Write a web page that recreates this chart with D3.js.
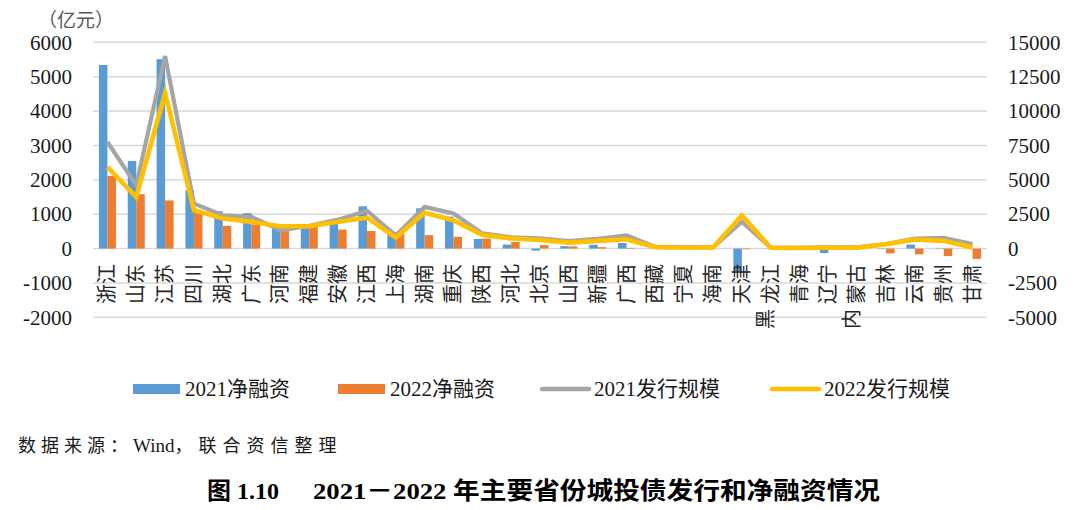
<!DOCTYPE html>
<html>
<head>
<meta charset="utf-8">
<script src="https://cdn.jsdelivr.net/npm/d3@7"></script>
<style>
  body { margin: 0; background: #fff; }
  svg { display: block; }
</style>
</head>
<body>
<svg id="chart" width="1080" height="510"></svg>
<script>
// Provinces, left to right
const CATS = ["浙江","山东","江苏","四川","湖北","广东","河南","福建","安徽","江西","上海","湖南","重庆","陕西","河北","北京","山西","新疆","广西","西藏","宁夏","海南","天津","黑龙江","青海","辽宁","内蒙古","吉林","云南","贵州","甘肃"];

// Net financing (亿元), left axis
const NET_2021 = [5340,2550,5510,1700,1085,1030,600,640,800,1230,480,1170,930,280,115,-60,70,110,160,5,10,10,-650,5,5,-130,5,10,115,-10,0];
const NET_2022 = [2110,1580,1400,1080,660,700,520,680,550,510,420,390,340,290,190,100,60,40,20,2,5,0,-20,0,0,0,-10,-140,-170,-220,-300];

// Issuance scale (亿元), right axis
const ISSUE_2021 = [7750,4600,14000,3270,2420,2300,1330,1650,2100,2750,950,3030,2550,1100,820,750,550,700,950,120,80,80,1950,60,50,80,80,330,720,780,330];
const ISSUE_2022 = [5930,3750,11300,2790,2180,1940,1620,1620,1950,2250,800,2600,2050,1000,730,620,430,560,680,100,80,80,2400,60,50,60,70,310,660,560,80];

const LEFT_TICKS  = [-2000,-1000,0,1000,2000,3000,4000,5000,6000];
const RIGHT_TICKS = [-5000,-2500,0,2500,5000,7500,10000,12500,15000];

const SERIES = [
  { name: "2021净融资",   color: "#5B9BD5", type: "bar"  },
  { name: "2022净融资",   color: "#ED7D31", type: "bar"  },
  { name: "2021发行规模", color: "#A5A5A5", type: "line" },
  { name: "2022发行规模", color: "#FFC000", type: "line" },
];

const FONT = "'Liberation Serif','Noto Sans CJK SC',serif";
const CJK  = "'Noto Sans CJK SC',sans-serif";

const svg = d3.select("#chart");
const plot = { left: 93, right: 987, top: 42.3, bottom: 317.3 };

// ── Scales ────────────────────────────────────────────────────
const x0 = d3.scaleBand().domain(CATS)
  .range([plot.left, plot.right])
  .paddingInner(0.41).paddingOuter(0.205);
const x1 = d3.scaleBand().domain([0, 1]).range([0, x0.bandwidth()]);
const yL = d3.scaleLinear().domain([-2000, 6000]).range([plot.bottom, plot.top]);
const yR = d3.scaleLinear().domain([-5000, 15000]).range([plot.bottom, plot.top]);
const cx = c => x0(c) + x0.bandwidth() / 2;

// ── Grid Lines ────────────────────────────────────────────────
svg.append("g").selectAll("line").data(LEFT_TICKS).join("line")
  .attr("x1", plot.left).attr("x2", plot.right)
  .attr("y1", d => yL(d)).attr("y2", d => yL(d))
  .attr("stroke", "#d9d9d9").attr("stroke-width", 1.4);

// ── Axes ──────────────────────────────────────────────────────
// plain integers with an ascii minus, as in the source figure
function styleAxis(g) {
  g.select(".domain").remove();
  g.selectAll(".tick line").remove();
  g.selectAll("text").attr("font-family", FONT).attr("font-size", "21px").attr("fill", "#1a1a1a");
}
svg.append("g").attr("transform", `translate(${plot.left},0)`)
  .call(d3.axisLeft(yL).tickValues(LEFT_TICKS).tickFormat(d => String(d)).tickSize(0).tickPadding(21))
  .call(styleAxis);
svg.append("g").attr("transform", `translate(${plot.right},0)`)
  .call(d3.axisRight(yR).tickValues(RIGHT_TICKS).tickFormat(d => String(d)).tickSize(0).tickPadding(21))
  .call(styleAxis);

svg.append("text").attr("x", 38).attr("y", 27)
  .attr("font-family", CJK).attr("font-size", "19px").attr("fill", "#595959")
  .text("（亿元）");

// ── Bars ──────────────────────────────────────────────────────
[NET_2021, NET_2022].forEach((vals, i) => {
  svg.append("g").selectAll("rect").data(CATS).join("rect")
    .attr("x", c => x0(c) + x1(i))
    .attr("width", x1.bandwidth())
    .attr("y", (c, k) => yL(Math.max(0, vals[k])))
    .attr("height", (c, k) => Math.abs(yL(vals[k]) - yL(0)))
    .attr("fill", SERIES[i].color);
});

// ── Lines ─────────────────────────────────────────────────────
const line = d3.line().x(d => cx(d[0])).y(d => yR(d[1]));
[[ISSUE_2021, 2, 4.2], [ISSUE_2022, 3, 4.6]].forEach(([vals, si, w]) => {
  svg.append("path")
    .attr("d", line(CATS.map((c, k) => [c, vals[k]])))
    .attr("fill", "none").attr("stroke", SERIES[si].color)
    .attr("stroke-width", w).attr("stroke-linejoin", "miter");
});

// ── Category Labels (rotated, reading bottom to top) ──────────
// three-character names wrap: first character drops below the rest
const labelTop = 264;
CATS.forEach(c => {
  const main = c.length > 2 ? c.slice(1) : c;
  svg.append("text")
    .attr("transform", `translate(${cx(c) + 7},${labelTop}) rotate(-90)`)
    .attr("text-anchor", "end")
    .attr("font-family", CJK).attr("font-size", "20px").attr("fill", "#262626")
    .text(main);
  if (c.length > 2) {
    svg.append("text")
      .attr("transform", `translate(${cx(c) + 2},${labelTop + 45}) rotate(-90)`)
      .attr("text-anchor", "end")
      .attr("font-family", CJK).attr("font-size", "20px").attr("fill", "#262626")
      .text(c[0]);
  }
});

// ── Legend ────────────────────────────────────────────────────
const LEGEND_X = [133, 338, 542, 772];
SERIES.forEach((s, i) => {
  const g = svg.append("g").attr("transform", `translate(${LEGEND_X[i]},389)`);
  if (s.type === "bar") {
    g.append("rect").attr("x", 0).attr("y", -5).attr("width", 47).attr("height", 10).attr("fill", s.color);
  } else {
    g.append("line").attr("x1", 0).attr("x2", 47).attr("y1", 0).attr("y2", 0)
      .attr("stroke", s.color).attr("stroke-width", 4.5).attr("stroke-linecap", "round");
  }
  g.append("text").attr("x", 52).attr("y", 7)
    .attr("font-family", FONT).attr("font-size", "21px").attr("fill", "#1a1a1a")
    .text(s.name);
});

// ── Source and Caption ────────────────────────────────────────
const src = svg.append("text").attr("x", 18).attr("y", 452)
  .attr("font-family", CJK).attr("font-size", "18px").attr("fill", "#1a1a1a");
src.append("tspan").attr("letter-spacing", "5px").text("数据来源：");
src.append("tspan").attr("font-family", FONT).attr("font-size", "19px").text("Wind");
src.append("tspan").attr("letter-spacing", "6px").text("，联合资信整理");

svg.append("text").attr("x", 207).attr("y", 499)
  .attr("font-family", FONT).attr("font-size", "24px").attr("font-weight", "bold").attr("fill", "#000")
  .text("图 1.10");
svg.append("text").attr("x", 313).attr("y", 499)
  .attr("font-family", FONT).attr("font-size", "24px").attr("font-weight", "bold").attr("fill", "#000")
  .attr("textLength", 567).attr("lengthAdjust", "spacingAndGlyphs")
  .text("2021－2022 年主要省份城投债发行和净融资情况");
</script>
</body>
</html>
